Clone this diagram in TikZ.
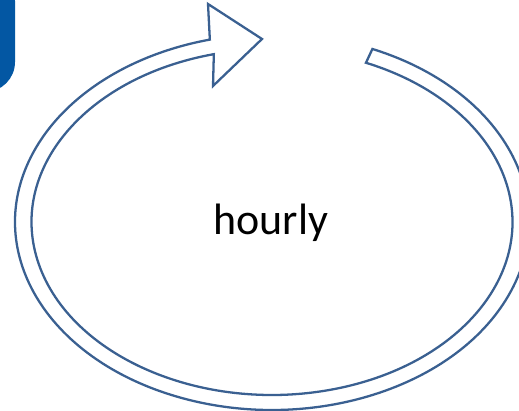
\documentclass[tikz,border=0pt]{standalone}
\usepackage{fontspec}
\setmainfont{Carlito}
\usepackage{xcolor}
\usetikzlibrary{calc}
\definecolor{cycleBlue}{RGB}{58,96,145}
\definecolor{tabBlue}{RGB}{3,87,163}

\begin{document}
\begin{tikzpicture}[x=0.02cm,y=0.02cm]
\useasboundingbox (0,0) rectangle (519,411);
\clip (0,0) rectangle (519,411);
\tikzset{looparrow/.style={draw=cycleBlue,line width=1.3pt,line join=miter,fill=white}}
\fill[tabBlue,rounded corners=0.6cm] (-40,440) rectangle (15,319);
\coordinate (ctr) at (272,189);
\draw[looparrow] ([shift={(67:5.14cm and 3.76cm)}]ctr)
  arc[start angle=67,end angle=-256,x radius=5.14cm,y radius=3.76cm]
  -- (208,407) -- (262,372) -- (213,325)
  -- ([shift={(104:4.81cm and 3.46cm)}]ctr)
  arc[start angle=-256,end angle=67,x radius=4.81cm,y radius=3.46cm]
  -- cycle;
\node[anchor=base,font=\fontsize{25}{30}\selectfont,inner sep=0pt] (hourly) at (271,176) {hourly};
\end{tikzpicture}
\end{document}
